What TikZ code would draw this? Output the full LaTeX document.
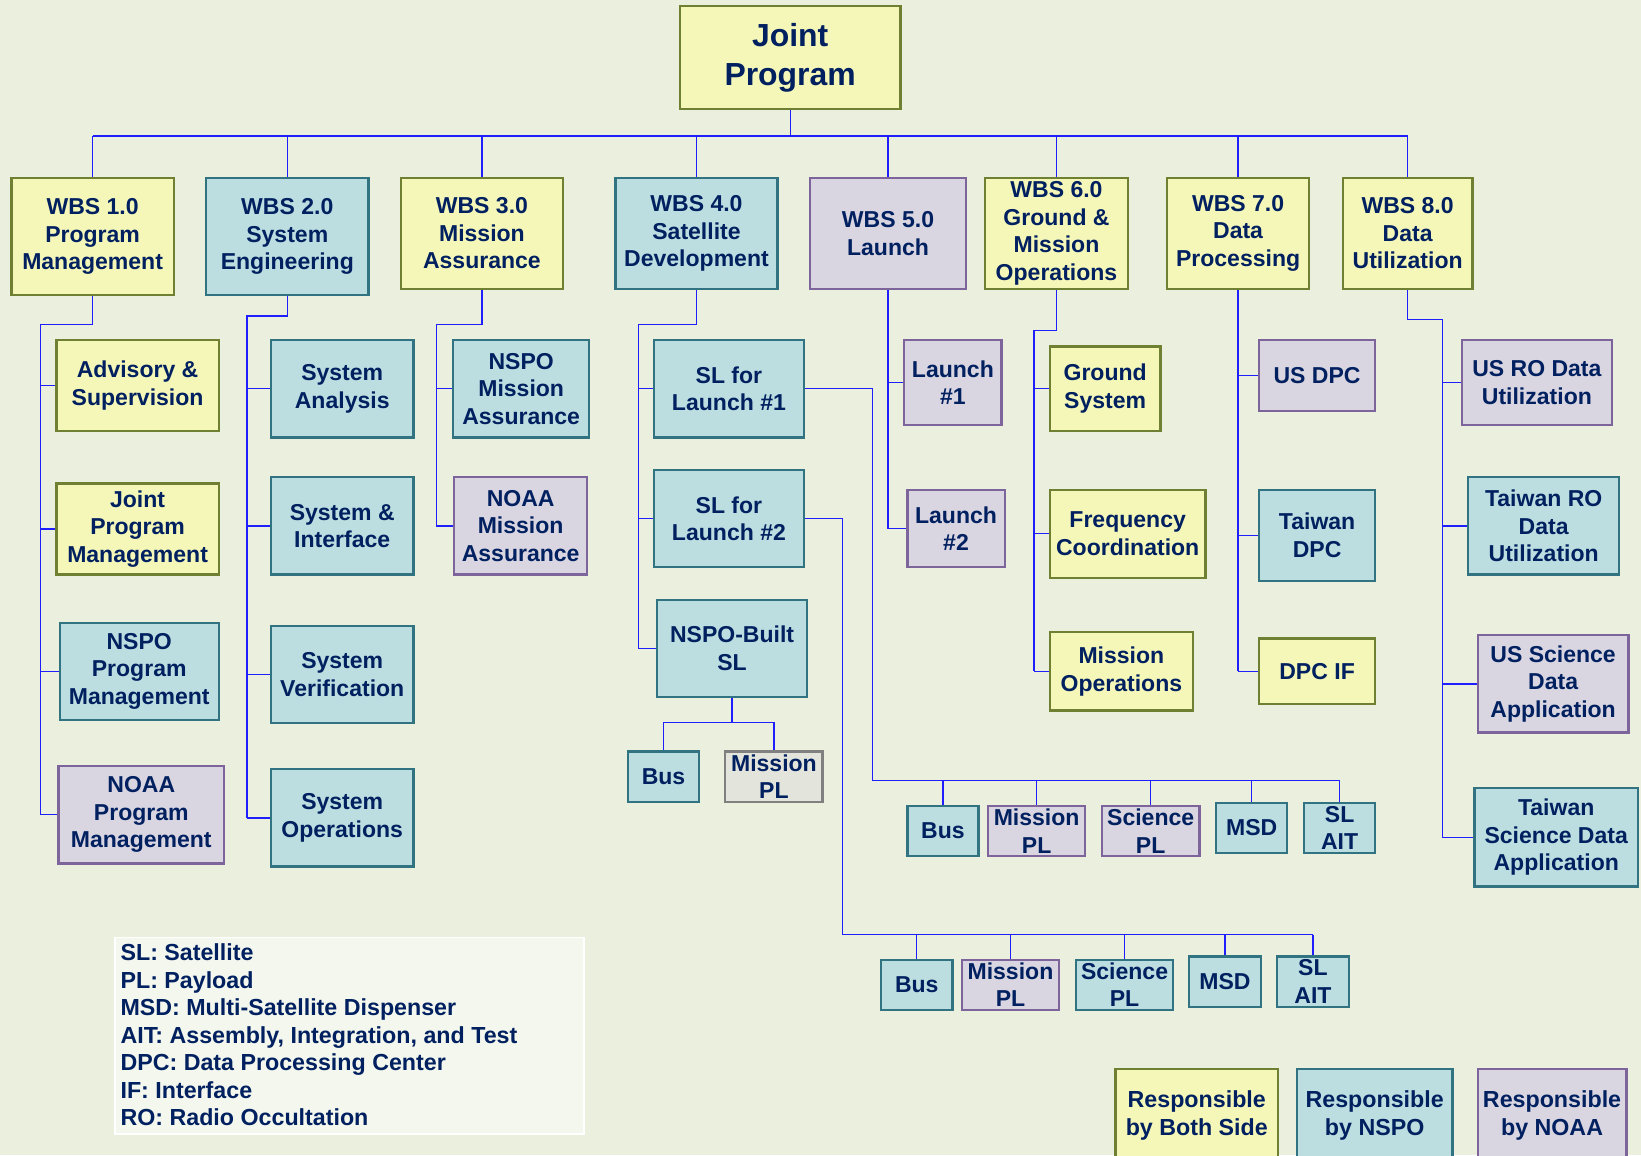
\documentclass[tikz,border=0pt]{standalone}
\usepackage{fontspec}
\setmainfont{Liberation Sans}
\definecolor{bgc}{RGB}{235,239,222}
\definecolor{navy}{RGB}{0,32,96}
\definecolor{yfill}{RGB}{245,247,185}
\definecolor{ydraw}{RGB}{112,128,50}
\definecolor{tfill}{RGB}{189,222,224}
\definecolor{tdraw}{RGB}{49,115,128}
\definecolor{pfill}{RGB}{217,213,225}
\definecolor{pdraw}{RGB}{125,100,155}
\definecolor{gfill}{RGB}{227,228,220}
\definecolor{gdraw}{RGB}{128,128,128}
\definecolor{lfill}{RGB}{244,247,238}
\definecolor{linec}{RGB}{30,30,255}
\tikzset{
  box/.style={draw, line width=2.2pt, align=center, inner sep=0pt, text=navy,
    font={\fontsize{22}{26.3}\selectfont\bfseries}},
  yb/.style={box, fill=yfill, draw=ydraw},
  tb/.style={box, fill=tfill, draw=tdraw},
  pb/.style={box, fill=pfill, draw=pdraw},
  gb/.style={box, fill=gfill, draw=gdraw},
  conn/.style={draw=linec, line width=1.2pt},
  sz/.style n args={2}{minimum width=#1pt, minimum height=#2pt},
  legtext/.style={align=left, inner sep=0pt, text=navy,
    font={\fontsize{22.2}{26.3}\selectfont\bfseries}},
}
\begin{document}
\begin{tikzpicture}[x=1pt,y=-1pt]
\useasboundingbox (0,0) rectangle (1568,1104);
\clip (0,0) rectangle (1568,1104);
\fill[bgc] (0,0) rectangle (1568,1104);

% root
\node[yb, sz={211}{98}, font={\fontsize{30.5}{37}\selectfont\bfseries}] (jp) at (755,55) {Joint\\Program};

% level 1
\node[yb, sz={155}{112}] (w1) at (88.5,226) {WBS 1.0\\Program\\Management};
\node[tb, sz={155}{112}] (w2) at (274.5,226) {WBS 2.0\\System\\Engineering};
\node[yb, sz={155}{106}] (w3) at (460.5,223) {WBS 3.0\\Mission\\Assurance};
\node[tb, sz={155}{106}] (w4) at (665.5,223) {WBS 4.0\\Satellite\\Development};
\node[pb, sz={149}{106}] (w5) at (848.5,223) {WBS 5.0\\Launch};
\node[yb, sz={137}{106}] (w6) at (1009.5,223) {WBS 6.0\\Ground \&\\Mission\\Operations};
\node[yb, sz={136}{106}] (w7) at (1183,223) {WBS 7.0\\Data\\Processing};
\node[yb, sz={124}{106}] (w8) at (1345,223) {WBS 8.0\\Data\\Utilization};

% WBS 1 children
\node[yb, sz={155}{87}] (a1) at (131.5,368.5) {Advisory \&\\Supervision};
\node[yb, sz={155}{87}] (a2) at (131.5,505.5) {Joint\\Program\\Management};
\node[tb, sz={152}{93}] (a3) at (133,641.5) {NSPO\\Program\\Management};
\node[pb, sz={158}{93}] (a4) at (135,778.5) {NOAA\\Program\\Management};

% WBS 2 children
\node[tb, sz={136}{93}] (b1) at (327,371.5) {System\\Analysis};
\node[tb, sz={136}{93}] (b2) at (327,502.5) {System \&\\Interface};
\node[tb, sz={136}{93}] (b3) at (327,644.5) {System\\Verification};
\node[tb, sz={136}{93}] (b4) at (327,781.5) {System\\Operations};

% WBS 3 children
\node[tb, sz={130}{93}] (c1) at (498,371.5) {NSPO\\Mission\\Assurance};
\node[pb, sz={127}{93}] (c2) at (497.5,502.5) {NOAA\\Mission\\Assurance};

% WBS 4 children
\node[tb, sz={143}{93}] (d1) at (696.5,371.5) {SL for\\Launch \#1};
\node[tb, sz={143}{93}] (d2) at (696.5,495.5) {SL for\\Launch \#2};
\node[tb, sz={143}{93}] (d3) at (699.5,619.5) {NSPO-Built\\SL};
\node[tb, sz={68}{48}] (d31) at (634,742) {Bus};
\node[gb, sz={93}{48}] (d32) at (739.5,742) {Mission\\PL};

\node[tb, sz={68}{48}] (e1) at (901,794) {Bus};
\node[pb, sz={93}{48}] (e2) at (990.5,794) {Mission\\PL};
\node[pb, sz={93}{48}] (e3) at (1099.5,794) {Science\\PL};
\node[tb, sz={68}{48}] (e4) at (1196,791) {MSD};
\node[tb, sz={68}{48}] (e5) at (1280,791) {SL\\AIT};

\node[tb, sz={68}{48}] (f1) at (876,941) {Bus};
\node[pb, sz={93}{48}] (f2) at (965.5,941) {Mission\\PL};
\node[tb, sz={93}{48}] (f3) at (1074.5,941) {Science\\PL};
\node[tb, sz={69}{48}] (f4) at (1170.5,938) {MSD};
\node[tb, sz={69}{48}] (f5) at (1254.5,938) {SL\\AIT};

% WBS 5 children
\node[pb, sz={93}{81}] (g1) at (910.5,365.5) {Launch\\\#1};
\node[pb, sz={93}{74}] (g2) at (913.5,505) {Launch\\\#2};

% WBS 6 children
\node[yb, sz={106}{81}] (h1) at (1056,371.5) {Ground\\System};
\node[yb, sz={149}{84}] (h2) at (1077.5,510) {Frequency\\Coordination};
\node[yb, sz={137}{75}] (h3) at (1071.5,641.5) {Mission\\Operations};

% WBS 7 children
\node[pb, sz={111}{68}] (i1) at (1258.5,359) {US DPC};
\node[tb, sz={111}{87}] (i2) at (1258.5,511.5) {Taiwan\\DPC};
\node[yb, sz={111}{63}] (i3) at (1258.5,641.5) {DPC IF};

% WBS 8 children
\node[pb, sz={143}{81}] (j1) at (1468.5,365.5) {US RO Data\\Utilization};
\node[tb, sz={144}{93}] (j2) at (1475,502.5) {Taiwan RO\\Data\\Utilization};
\node[pb, sz={144}{93}] (j3) at (1484,653.5) {US Science\\Data\\Application};
\node[tb, sz={156}{94}] (j4) at (1487,800) {Taiwan\\Science Data\\Application};

% legend
\node[draw=white, line width=1.5pt, fill=lfill, sz={448}{188}, anchor=north west, inner sep=0pt] (leg) at (109,895) {};
\node[legtext, anchor=west] (legt) at (115,989) {SL: Satellite\\PL: Payload\\MSD: Multi-Satellite Dispenser\\AIT: Assembly, Integration, and Test\\DPC: Data Processing Center\\IF: Interface\\RO: Radio Occultation};

\node[yb, sz={155}{120}, anchor=north] (r1) at (1143.5,1020) {};
\node[tb, sz={149}{120}, anchor=north] (r2) at (1313.5,1020) {};
\node[pb, sz={142}{120}, anchor=north] (r3) at (1483,1020) {};
\node[legtext, align=center] (r1t) at (1143.5,1066) {Responsible\\by Both Side};
\node[legtext, align=center] (r2t) at (1313.5,1066) {Responsible\\by NSPO};
\node[legtext, align=center] (r3t) at (1483,1066) {Responsible\\by NOAA};

% connectors
\coordinate (hb) at (755,130);
\draw[conn] (jp.south) -- (jp.south |- hb);
\draw[conn] (w1.north |- hb) -- (w8.north |- hb);
\foreach \w in {w1,w2,w3,w4,w5,w6,w7,w8}{\draw[conn] (\w.north) -- (\w.north |- hb);}

\coordinate (p1) at (39,310);
\draw[conn] (w1.south) |- (p1) -- (p1 |- a4.west);
\foreach \c in {a1,a2,a3,a4}{\draw[conn] (p1 |- \c.west) -- (\c.west);}

\coordinate (p2) at (236,302);
\draw[conn] (w2.south) |- (p2) -- (p2 |- b4.west);
\foreach \c in {b1,b2,b3,b4}{\draw[conn] (p2 |- \c.west) -- (\c.west);}

\coordinate (p3) at (417,310);
\draw[conn] (w3.south) |- (p3) -- (p3 |- c2.west);
\foreach \c in {c1,c2}{\draw[conn] (p3 |- \c.west) -- (\c.west);}

\coordinate (p4) at (610,310);
\draw[conn] (w4.south) |- (p4) -- (p4 |- d3.west);
\foreach \c in {d1,d2,d3}{\draw[conn] (p4 |- \c.west) -- (\c.west);}

\coordinate (q3) at (700,690);
\draw[conn] (d3.south) -- (d3.south |- q3);
\draw[conn] (d31.north |- q3) -- (d32.north |- q3);
\foreach \c in {d31,d32}{\draw[conn] (\c.north |- q3) -- (\c.north);}

\coordinate (k1) at (834,746);
\draw[conn] (d1.east) -| (k1) -- (e5.north |- k1);
\foreach \c in {e1,e2,e3,e4,e5}{\draw[conn] (\c.north |- k1) -- (\c.north);}

\coordinate (k2) at (805,893);
\draw[conn] (d2.east) -| (k2) -- (f5.north |- k2);
\foreach \c in {f1,f2,f3,f4,f5}{\draw[conn] (\c.north |- k2) -- (\c.north);}

\draw[conn] (w5.south) -- (w5.south |- g2.west);
\foreach \c in {g1,g2}{\draw[conn] (w5.south |- \c.west) -- (\c.west);}

\coordinate (p6) at (988,316);
\draw[conn] (w6.south) |- (p6) -- (p6 |- h3.west);
\foreach \c in {h1,h2,h3}{\draw[conn] (p6 |- \c.west) -- (\c.west);}

\draw[conn] (w7.south) -- (w7.south |- i3.west);
\foreach \c in {i1,i2,i3}{\draw[conn] (w7.south |- \c.west) -- (\c.west);}

\coordinate (p8) at (1378,305);
\draw[conn] (w8.south) |- (p8) -- (p8 |- j4.west);
\foreach \c in {j1,j2,j3,j4}{\draw[conn] (p8 |- \c.west) -- (\c.west);}
\end{tikzpicture}
\end{document}
